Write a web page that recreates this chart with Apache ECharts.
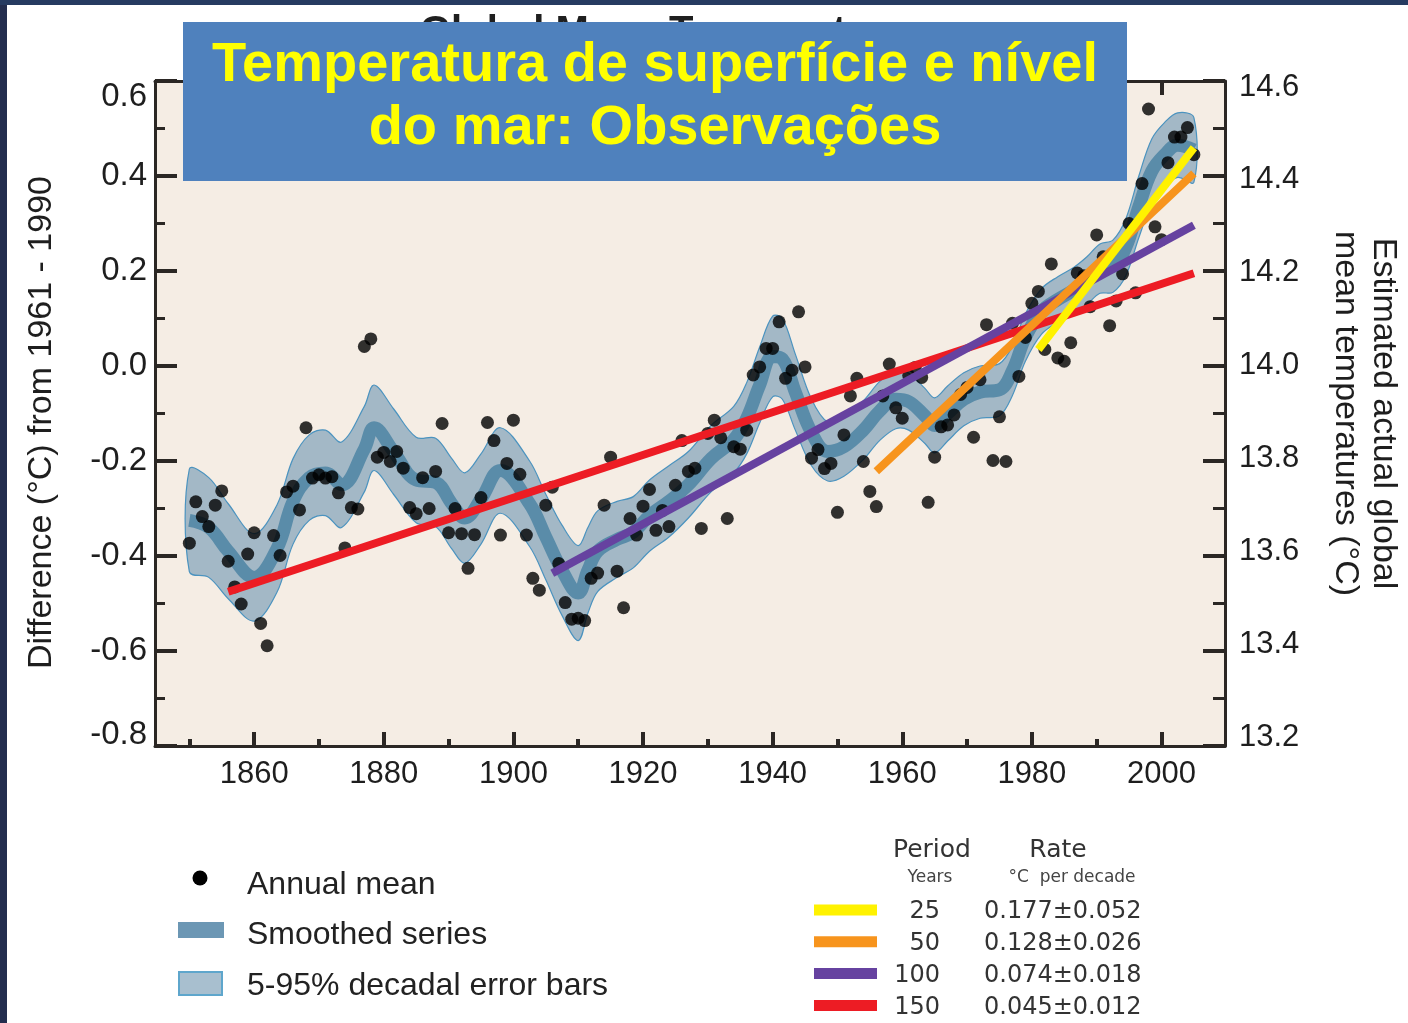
<!DOCTYPE html>
<html>
<head>
<meta charset="utf-8">
<script src="https://cdn.jsdelivr.net/npm/echarts@6/dist/echarts.min.js"></script>
<style>
  html, body { margin: 0; padding: 0; background: #ffffff; }
  #chart { width: 1408px; height: 1023px; }
</style>
</head>
<body>
<div id="chart"></div>
<script>
// Annual global mean temperature anomalies (°C, relative to 1961-1990), 1850-2005
const firstYear = 1850;
const annualMean = [
  -0.373, -0.286, -0.317, -0.338, -0.293, -0.263, -0.411, -0.465, -0.501, -0.396,
  -0.351, -0.542, -0.589, -0.357, -0.399, -0.265, -0.253, -0.303, -0.130, -0.236,
  -0.229, -0.236, -0.233, -0.267, -0.383, -0.298, -0.301,  0.041,  0.057, -0.192,
  -0.182, -0.201, -0.180, -0.215, -0.298, -0.311, -0.235, -0.300, -0.222, -0.121,
  -0.351, -0.300, -0.353, -0.426, -0.355, -0.277, -0.119, -0.157, -0.356, -0.205,
  -0.114, -0.228, -0.356, -0.447, -0.472, -0.293, -0.255, -0.416, -0.498, -0.533,
  -0.531, -0.536, -0.447, -0.436, -0.293, -0.192, -0.432, -0.509, -0.321, -0.356,
  -0.295, -0.260, -0.346, -0.304, -0.338, -0.251, -0.157, -0.222, -0.215, -0.342,
  -0.142, -0.114, -0.151, -0.321, -0.170, -0.175, -0.135, -0.019, -0.002,  0.037,
   0.037,  0.093, -0.026, -0.009,  0.114, -0.002, -0.194, -0.176, -0.216, -0.205,
  -0.308, -0.145, -0.063, -0.026, -0.201, -0.264, -0.296, -0.063,  0.004, -0.088,
  -0.110, -0.020, -0.003, -0.024, -0.287, -0.192, -0.128, -0.124, -0.103, -0.060,
  -0.045, -0.150, -0.029,  0.087, -0.199, -0.107, -0.201,  0.090, -0.022,  0.060,
   0.132,  0.157,  0.035,  0.215,  0.017,  0.010,  0.049,  0.196,  0.190,  0.125,
   0.276,  0.230,  0.085,  0.137,  0.194,  0.300,  0.154,  0.384,  0.541,  0.293,
   0.266,  0.428,  0.482,  0.482,  0.502,  0.445
];
const annualYears = annualMean.map((_, i) => firstYear + i);

// Smoothed (decadal) series and its 5-95% range, given at knot years
const smoothYears = [
  1850, 1853, 1856, 1860, 1863.5, 1866, 1868.5, 1871, 1873.5, 1877, 1878.5, 1881.5,
  1885, 1888, 1890.5, 1892.5, 1895, 1898, 1902.5, 1905, 1907.5, 1910, 1911.5, 1913,
  1916, 1918.5, 1921, 1924, 1927, 1930.5, 1934, 1936, 1938, 1940, 1941.5, 1943.5,
  1946, 1948.5, 1951, 1954, 1956.5, 1959, 1961, 1963.5, 1965, 1967, 1969.5, 1972,
  1975, 1977, 1979, 1981.5, 1984, 1986.5, 1988.5, 1990.5, 1992.5, 1994.5, 1996.5,
  1998.5, 2000.5, 2002.5, 2005
];
const smoothMean = [
  -0.325, -0.340, -0.390, -0.445, -0.385, -0.285, -0.235, -0.225, -0.250, -0.175, -0.130, -0.180,
  -0.240, -0.245, -0.290, -0.320, -0.280, -0.220, -0.290, -0.360, -0.430, -0.478, -0.430, -0.390,
  -0.365, -0.350, -0.315, -0.285, -0.250, -0.195, -0.155, -0.110, -0.040,  0.020,  0.015, -0.055,
  -0.140, -0.180, -0.170, -0.135, -0.095, -0.070, -0.075, -0.105, -0.125, -0.100, -0.070, -0.055,
  -0.050, -0.010,  0.060,  0.115,  0.140,  0.160,  0.180,  0.205,  0.210,  0.250,  0.335,
   0.410,  0.445,  0.465,  0.455
];
const bandLower = [
  -0.433, -0.445, -0.490, -0.537, -0.477, -0.375, -0.325, -0.315, -0.340, -0.265, -0.220, -0.270,
  -0.330, -0.338, -0.385, -0.415, -0.375, -0.310, -0.380, -0.450, -0.525, -0.578, -0.520, -0.475,
  -0.445, -0.425, -0.390, -0.360, -0.320, -0.265, -0.225, -0.185, -0.120, -0.065, -0.070, -0.135,
  -0.210, -0.242, -0.232, -0.197, -0.157, -0.132, -0.135, -0.163, -0.183, -0.158, -0.126, -0.110,
  -0.105, -0.062,  0.010,  0.067,  0.092,  0.112,  0.130,  0.153,  0.155,  0.190,  0.270,
   0.342,  0.377,  0.397,  0.387
];
const bandUpper = [
  -0.217, -0.235, -0.290, -0.353, -0.293, -0.195, -0.145, -0.135, -0.160, -0.085, -0.040, -0.090,
  -0.150, -0.152, -0.195, -0.225, -0.185, -0.130, -0.200, -0.270, -0.335, -0.378, -0.340, -0.305,
  -0.285, -0.275, -0.240, -0.210, -0.180, -0.125, -0.085, -0.035,  0.040,  0.105,  0.100,  0.025,
  -0.070, -0.118, -0.108, -0.073, -0.033, -0.008, -0.015, -0.047, -0.067, -0.042, -0.014,  0.000,
   0.005,  0.042,  0.110,  0.163,  0.188,  0.208,  0.230,  0.257,  0.265,  0.310,  0.400,
   0.478,  0.513,  0.533,  0.523
];

// Linear trends over the last 25, 50, 100 and 150 years
const trendPeriods = [25, 50, 100, 150];
const trendRates = [0.177, 0.128, 0.074, 0.045];      // °C per decade
const trendErrors = [0.052, 0.026, 0.018, 0.012];
const trendMidValues = [0.247, 0.092, -0.070, -0.140]; // trend value at the middle of each period
const trendEndYear = 2005;

// Axis ticks
const yearLabels = [1860, 1880, 1900, 1920, 1940, 1960, 1980, 2000];
const yearMinorTicks = [1850, 1870, 1890, 1910, 1930, 1950, 1970, 1990];
const absoluteLabels = [13.2, 13.4, 13.6, 13.8, 14.0, 14.2, 14.4, 14.6];

const legendLabels = ['Annual mean', 'Smoothed series', '5-95% decadal error bars'];

// ---------------------------------------------------------------
const trendColors = ['#FFF200', '#F7941D', '#6642A0', '#ED1C24'];
const axisColor = '#2b2724';
const plotBg = '#F5EDE4';
const bandEdge = '#4B93BF';
const sansFont = '"Liberation Sans", Arial, sans-serif';
const verdanaLike = '"DejaVu Sans", Verdana, sans-serif';

function trendLine(k) {
  const start = trendEndYear - trendPeriods[k] + 1;
  const mid = (start + trendEndYear) / 2;
  const slope = trendRates[k] / 10;
  return [
    [start, trendMidValues[k] + slope * (start - mid)],
    [trendEndYear, trendMidValues[k] + slope * (trendEndYear - mid)]
  ];
}

const annualData = annualYears.map((y, i) => [y, annualMean[i]]);
const smoothData = smoothYears.map((y, i) => [y, smoothMean[i]]);

const xMin = 1844.7, xMax = 2009.8;

const trendSeries = [3, 2, 1, 0].map(k => ({
  type: 'line',
  name: trendPeriods[k] + ' years',
  data: trendLine(k),
  showSymbol: false,
  symbol: 'none',
  lineStyle: { color: trendColors[k], width: 8, cap: 'butt' },
  z: 5,
  silent: true
}));

// 5-95% range drawn as one closed shape: upper edge forward, lower edge back
function renderBand(params, api) {
  const pts = [];
  for (let i = 0; i < smoothYears.length; i++) pts.push(api.coord([smoothYears[i], bandUpper[i]]));
  for (let i = smoothYears.length - 1; i >= 0; i--) pts.push(api.coord([smoothYears[i], bandLower[i]]));
  return {
    type: 'polygon',
    shape: { points: pts, smooth: 0.35 },
    style: { fill: '#A3B8C6', stroke: bandEdge, lineWidth: 1.2 }
  };
}

// Legend and page decoration
const graphics = [
  { type: 'rect', shape: { x: 0, y: 0, width: 7, height: 1023 }, style: { fill: '#232D4E' }, z: 50 },
  { type: 'rect', shape: { x: 0, y: 0, width: 1408, height: 5 }, style: { fill: '#263B61' }, z: 50 },
  { type: 'text', x: 420, y: 33, z: 40,
    style: { text: 'Global Mean Temperature', font: 'bold 40px ' + sansFont, fill: '#1f1f1f',
             align: 'left', verticalAlign: 'middle', textAlign: 'left', textVerticalAlign: 'middle' } },
  { type: 'rect', shape: { x: 183, y: 22, width: 944, height: 159 }, style: { fill: '#4F81BD' }, z: 60 },
  { type: 'text', x: 655, y: 66, z: 61,
    style: { text: 'Temperatura de superfície e nível', font: 'bold 56px ' + sansFont, fill: '#FFFF00',
             align: 'center', verticalAlign: 'middle', textAlign: 'center', textVerticalAlign: 'middle' } },
  { type: 'text', x: 655, y: 129, z: 61,
    style: { text: 'do mar: Observações', font: 'bold 56px ' + sansFont, fill: '#FFFF00',
             align: 'center', verticalAlign: 'middle', textAlign: 'center', textVerticalAlign: 'middle' } },

  // left legend
  { type: 'circle', shape: { cx: 200, cy: 878, r: 7.5 }, style: { fill: '#000' }, z: 30 },
  { type: 'rect', shape: { x: 178, y: 922, width: 46, height: 16 }, style: { fill: '#6C97B4' }, z: 30 },
  { type: 'rect', shape: { x: 179, y: 972, width: 43, height: 23 }, style: { fill: '#A8BFCF', stroke: '#5EA6CC', lineWidth: 2 }, z: 30 }
];
legendLabels.forEach((t, i) => {
  graphics.push({ type: 'text', x: 247, y: 885 + i * 50.5, z: 30,
    style: { text: t, font: '32px ' + sansFont, fill: '#222',
             align: 'left', verticalAlign: 'middle', textAlign: 'left', textVerticalAlign: 'middle' } });
});

// right legend (trend periods and rates)
const hdr = (text, x, y, size, color) => ({ type: 'text', x, y, z: 30,
  style: { text, font: size + 'px ' + verdanaLike, fill: color,
           align: 'center', verticalAlign: 'middle', textAlign: 'center', textVerticalAlign: 'middle' } });
graphics.push(hdr('Period', 932, 850, 25, '#333'));
graphics.push(hdr('Rate', 1058, 850, 25, '#333'));
graphics.push(hdr('Years', 930, 878, 17, '#444'));
graphics.push(hdr('°C  per decade', 1072, 878, 17, '#444'));
trendPeriods.forEach((p, k) => {
  const cy = 910 + k * 31.8;
  graphics.push({ type: 'rect', shape: { x: 814, y: cy - 5.5, width: 63, height: 11 }, style: { fill: trendColors[k] }, z: 30 });
  graphics.push({ type: 'text', x: 940, y: cy + 2, z: 30,
    style: { text: String(p), font: '24px ' + verdanaLike, fill: '#333',
             align: 'right', verticalAlign: 'middle', textAlign: 'right', textVerticalAlign: 'middle' } });
  graphics.push({ type: 'text', x: 984, y: cy + 2, z: 30,
    style: { text: trendRates[k].toFixed(3) + '±' + trendErrors[k].toFixed(3), font: '24px ' + verdanaLike, fill: '#333',
             align: 'left', verticalAlign: 'middle', textAlign: 'left', textVerticalAlign: 'middle' } });
});

// Left axis labels: the end labels sit inside the axis span
function leftLabel(v) {
  const t = v.toFixed(1);
  if (Math.abs(v - 0.6) < 1e-6) return '{top|' + t + '}';
  if (Math.abs(v + 0.8) < 1e-6) return '{bot|' + t + '}';
  return t;
}
const leftLabelFont = { fontSize: 33, fontFamily: sansFont, color: '#1e1e1e' };

const option = {
  animation: false,
  backgroundColor: '#ffffff',
  grid: {
    left: 155, top: 81, width: 1070, height: 665,
    show: true, backgroundColor: plotBg, borderWidth: 0,
    containLabel: false, outerBoundsMode: 'none'
  },
  xAxis: [
    {
      type: 'value', position: 'bottom', min: xMin, max: xMax, z: 10,
      axisLine: { show: true, onZero: false, lineStyle: { color: axisColor, width: 3 } },
      axisTick: { show: true, inside: true, length: 14, customValues: yearLabels, lineStyle: { color: axisColor, width: 4 } },
      axisLabel: { customValues: yearLabels, formatter: v => String(v), fontSize: 31, fontFamily: sansFont, color: '#1e1e1e', margin: 13 },
      splitLine: { show: false }
    },
    {
      type: 'value', position: 'bottom', min: xMin, max: xMax, z: 10,
      axisLine: { show: false, onZero: false },
      axisTick: { show: true, inside: true, length: 7, customValues: yearMinorTicks, lineStyle: { color: axisColor, width: 4 } },
      axisLabel: { show: false },
      splitLine: { show: false }
    },
    {
      type: 'value', position: 'top', min: xMin, max: xMax, z: 10,
      axisLine: { show: true, onZero: false, lineStyle: { color: axisColor, width: 3 } },
      axisTick: { show: true, inside: true, length: 14, customValues: yearLabels, lineStyle: { color: axisColor, width: 4 } },
      axisLabel: { show: false },
      splitLine: { show: false }
    }
  ],
  yAxis: [
    {
      type: 'value', position: 'left', min: -0.8, max: 0.6, interval: 0.2, z: 10,
      name: 'Difference (°C) from 1961 - 1990', nameLocation: 'middle', nameGap: 96, nameRotate: 90,
      nameTextStyle: { fontSize: 34, fontFamily: sansFont, color: '#1e1e1e', padding: [0, 18, 0, 0] },
      axisLine: { show: true, onZero: false, lineStyle: { color: axisColor, width: 3 } },
      axisTick: { show: true, inside: true, length: 22, lineStyle: { color: axisColor, width: 4 } },
      minorTick: { show: true, splitNumber: 2, length: 10, lineStyle: { color: axisColor, width: 3 } },
      axisLabel: Object.assign({
        formatter: leftLabel, margin: 8,
        rich: {
          top: Object.assign({ padding: [32, 0, 0, 0] }, leftLabelFont),
          bot: Object.assign({ padding: [0, 0, 22, 0] }, leftLabelFont)
        }
      }, leftLabelFont),
      splitLine: { show: false }, minorSplitLine: { show: false }
    },
    {
      type: 'value', position: 'right', min: 13.2, max: 14.6, interval: 0.2, z: 10,
      axisLine: { show: true, onZero: false, lineStyle: { color: axisColor, width: 3 } },
      axisTick: { show: true, inside: true, length: 22, lineStyle: { color: axisColor, width: 4 } },
      minorTick: { show: true, splitNumber: 2, length: 12, lineStyle: { color: axisColor, width: 3 } },
      axisLabel: { show: false },
      splitLine: { show: false }, minorSplitLine: { show: false }
    },
    {
      type: 'value', position: 'right', min: 13.1806, max: 14.6129, z: 10,
      name: 'Estimated actual global\nmean temperatures (°C)', nameLocation: 'middle', nameGap: 101, nameRotate: -90,
      nameTextStyle: { fontSize: 34, lineHeight: 38, fontFamily: sansFont, color: '#1e1e1e', align: 'center' },
      axisLine: { show: false },
      axisTick: { show: false },
      axisLabel: { customValues: absoluteLabels, formatter: v => v.toFixed(1), fontSize: 31, fontFamily: sansFont, color: '#1e1e1e', margin: 14 },
      splitLine: { show: false }
    }
  ],
  series: [
    {
      type: 'custom', name: '5-95% decadal error bars',
      renderItem: renderBand,
      data: [[smoothYears[0], bandLower[0]]],
      z: 2, silent: true
    },
    {
      type: 'line', name: 'Smoothed series', data: smoothData, smooth: 0.4,
      showSymbol: false, symbol: 'none',
      lineStyle: { color: '#5A8CA9', width: 13 }, z: 3, silent: true
    },
    {
      type: 'scatter', name: 'Annual mean', data: annualData, symbolSize: 13,
      itemStyle: { color: '#000000' }, z: 4, silent: true
    },
    ...trendSeries
  ],
  graphic: { elements: graphics }
};

const chart = echarts.init(document.getElementById('chart'));
chart.setOption(option);
</script>
</body>
</html>
